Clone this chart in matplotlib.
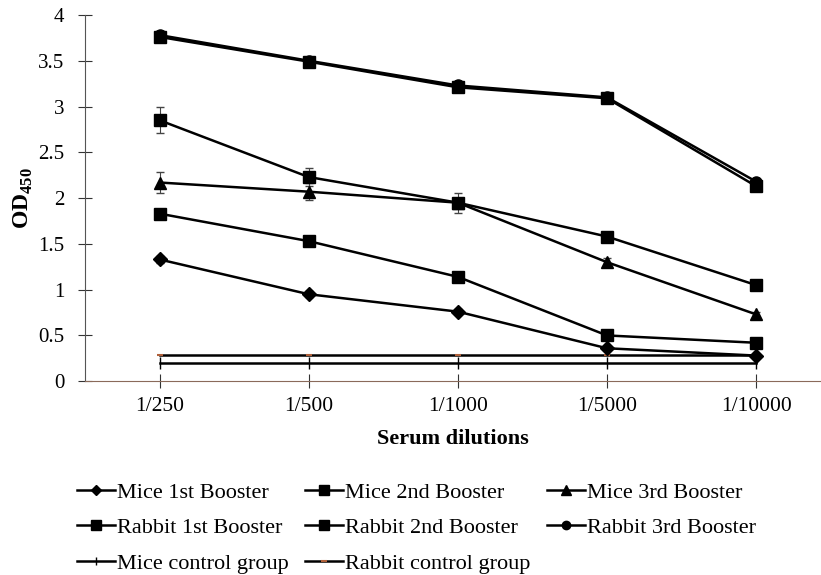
import matplotlib.pyplot as plt
from matplotlib.lines import Line2D

plt.rcParams['font.family'] = ['Liberation Serif', 'DejaVu Serif']
plt.rcParams['mathtext.fontset'] = 'custom'
plt.rcParams['mathtext.rm'] = 'Liberation Serif'
plt.rcParams['mathtext.bf'] = 'Liberation Serif:bold'

dilutions = ["1/250", "1/500", "1/1000", "1/5000", "1/10000"]

mice_1st = [1.33, 0.95, 0.76, 0.36, 0.28]
mice_2nd = [1.83, 1.53, 1.14, 0.50, 0.42]
mice_3rd = [2.17, 2.07, 1.95, 1.30, 0.73]
rabbit_1st = [3.76, 3.49, 3.21, 3.09, 2.13]
rabbit_2nd = [2.85, 2.23, 1.95, 1.58, 1.05]
rabbit_3rd = [3.78, 3.50, 3.23, 3.10, 2.18]
mice_ctrl = [0.20, 0.20, 0.20, 0.20, 0.20]
rabbit_ctrl = [0.29, 0.29, 0.29, 0.29, 0.29]

err_mice_3rd = [0.11, 0.09, 0.05, 0.05, 0.03]
err_rabbit_2nd = [0.14, 0.10, 0.11, 0.04, 0.03]
err_small = [0.04, 0.03, 0.03, 0.02, 0.02]

fig = plt.figure(figsize=(8.21, 5.75), dpi=100)
ax = fig.add_axes([0.1035, 0.337, 0.8965, 0.637])

x = range(len(dilutions))
kw = dict(color='black', lw=1.8, capsize=3, elinewidth=0.8, ecolor='#444444')

ax.errorbar(x, mice_1st, yerr=err_small, marker='D', ms=7, **kw)
ax.errorbar(x, mice_2nd, yerr=err_small, marker='s', ms=9, **kw)
ax.errorbar(x, mice_3rd, yerr=err_mice_3rd, marker='^', ms=9, **kw)
ax.errorbar(x, rabbit_1st, yerr=err_small, marker='s', ms=9, **kw)
ax.errorbar(x, rabbit_2nd, yerr=err_rabbit_2nd, marker='s', ms=9, **kw)
ax.errorbar(x, rabbit_3rd, yerr=err_small, marker='o', ms=8, **kw)
ax.plot(x, mice_ctrl, color='black', lw=1.8, marker='|', ms=8, mew=1)
ax.plot(x, rabbit_ctrl, color='black', lw=1.8, marker='_', ms=5, mec='#b0603a', mew=1.5)

ax.set_xlim(-0.5, 4.435)
ax.set_ylim(0, 4)
ax.set_xticks(list(x))
ax.set_xticklabels(dilutions, fontsize=15.5)
ax.set_yticks([0, 0.5, 1, 1.5, 2, 2.5, 3, 3.5, 4])
ax.set_yticklabels(['0', '0.5', '1', '1.5', '2', '2.5', '3', '3.5', '4'], fontsize=15)
ax.tick_params(axis='both', direction='inout', length=10, width=0.8, colors='#333333',
               labelcolor='black')
ax.tick_params(axis='x', pad=6)
ax.tick_params(axis='y', pad=10)

for side in ['top', 'right']:
    ax.spines[side].set_visible(False)
ax.spines['left'].set_color('#555555')
ax.spines['bottom'].set_color('#8a6a5a')

ax.set_xlabel('Serum dilutions', fontsize=16, fontweight='bold', labelpad=10)
ax.set_ylabel(r'OD$_{\mathbf{450}}$', fontsize=17, fontweight='bold', labelpad=2)

# legend handles without error bars, ordered so rows read across
def h(marker, ms, **extra):
    return Line2D([], [], color='black', lw=1.8, marker=marker, ms=ms, **extra)

entries = [
    (h('D', 5), 'Mice 1st Booster'),
    (h('s', 7), 'Rabbit 1st Booster'),
    (h('|', 6, mew=1), 'Mice control group'),
    (h('s', 7), 'Mice 2nd Booster'),
    (h('s', 7), 'Rabbit 2nd Booster'),
    (h('_', 4, mec='#b0603a', mew=1.5), 'Rabbit control group'),
    (h('^', 7), 'Mice 3rd Booster'),
    (h('o', 6), 'Rabbit 3rd Booster'),
]
fig.legend([e[0] for e in entries], [e[1] for e in entries], loc='upper left',
           bbox_to_anchor=(77 / 821, 1 - 482 / 575), ncol=3, frameon=False,
           fontsize=16, handlelength=1.7, handletextpad=0.1, borderpad=0,
           borderaxespad=0, columnspacing=0.75, labelspacing=0.68)

plt.savefig('out.png', dpi=100)
